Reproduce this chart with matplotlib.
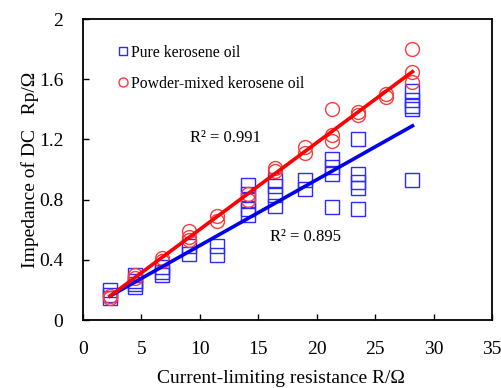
import matplotlib
matplotlib.use('Agg')
import matplotlib.pyplot as plt
import numpy as np

plt.rcParams['font.family'] = ['Liberation Serif', 'DejaVu Serif']
plt.rcParams['mathtext.fontset'] = 'stix'

# current-limiting resistance groups
r_values = [2.33, 4.47, 6.75, 9.04, 11.5, 14.17, 16.45, 19.0, 21.35, 23.58, 25.9, 28.2]

# pure kerosene oil: (resistance index, impedance)
pure_x = [0, 0, 0,
          1, 1, 1, 1,
          2, 2, 2,
          3, 3,
          4, 4,
          5, 5, 5, 5, 5,
          6, 6, 6, 6,
          7, 7,
          8, 8, 8, 8,
          9, 9, 9, 9, 9,
          11, 11, 11, 11, 11]
pure_y = [0.20, 0.17, 0.15,
          0.30, 0.26, 0.24, 0.22,
          0.35, 0.32, 0.30,
          0.49, 0.44,
          0.49, 0.43,
          0.90, 0.84, 0.80, 0.74, 0.70,
          0.93, 0.89, 0.83, 0.76,
          0.93, 0.87,
          1.07, 1.02, 0.97, 0.75,
          1.20, 0.97, 0.92, 0.88, 0.74,
          1.52, 1.46, 1.42, 1.40, 0.93]

# powder-mixed kerosene oil
mixed_x = [0, 0,
           1, 1,
           2, 2,
           3, 3, 3,
           4, 4,
           5, 5,
           6, 6,
           7, 7,
           8, 8, 8,
           9, 9,
           10, 10,
           11, 11, 11]
mixed_y = [0.16, 0.15,
           0.30, 0.28,
           0.41, 0.39,
           0.59, 0.55, 0.53,
           0.69, 0.66,
           0.84, 0.80,
           1.01, 0.99,
           1.15, 1.11,
           1.40, 1.23, 1.19,
           1.38, 1.36,
           1.50, 1.48,
           1.80, 1.65, 1.58]

# linear fits (slope, intercept)
fit_pure = (0.0437, 0.058)
fit_mixed = (0.0576, 0.026)

blue = '#2b2bff'
red = '#ff3b3b'

fig = plt.figure(figsize=(5.02, 3.88), dpi=100)
ax = fig.add_axes([0.165, 0.175, 0.815, 0.776])

px = [r_values[i] for i in pure_x]
mx = [r_values[i] for i in mixed_x]

ax.plot(px, pure_y, linestyle='none', marker='s', markersize=9.5,
        markerfacecolor='none', markeredgecolor=blue, markeredgewidth=1.0,
        label='Pure kerosene oil')
ax.plot(mx, mixed_y, linestyle='none', marker='o', markersize=10,
        markerfacecolor='none', markeredgecolor=red, markeredgewidth=1.0,
        label='Powder-mixed kerosene oil')

xl = np.array([r_values[0], r_values[-1]])
ax.plot(xl, fit_pure[0] * xl + fit_pure[1], color='#0000ee', lw=2.6)
ax.plot(xl, fit_mixed[0] * xl + fit_mixed[1], color='#ff0000', lw=2.6)

ax.text(9.2, 1.21, 'R² = 0.991', fontsize=12, ha='left', va='center')
ax.text(16.0, 0.55, 'R² = 0.895', fontsize=12, ha='left', va='center')

leg = ax.legend(loc='upper left', bbox_to_anchor=(0.072, 0.935), frameon=False,
                fontsize=11.3, handlelength=0.6, handletextpad=0.2,
                labelspacing=0.95, markerscale=0.65, borderaxespad=0)

ax.set_xlim(0, 35)
ax.set_ylim(0, 2)
ax.set_xticks(np.arange(0, 36, 5))
ax.set_yticks([0, 0.4, 0.8, 1.2, 1.6, 2.0])
ax.set_yticklabels(['0', '0.4', '0.8', '1.2', '1.6', '2'])
ax.tick_params(direction='in', length=4, width=1, labelsize=14)
ax.tick_params(axis='y', pad=14)
ax.tick_params(axis='x', pad=15)
for s in ax.spines.values():
    s.set_linewidth(1.3)

ax.set_xlabel('Current-limiting resistance R/Ω', fontsize=14)
ax.xaxis.set_label_coords(0.485, -0.165)
ax.set_ylabel('Impedance of DC   Rp/Ω', fontsize=14, labelpad=0)

fig.savefig('out.png', dpi=100)
